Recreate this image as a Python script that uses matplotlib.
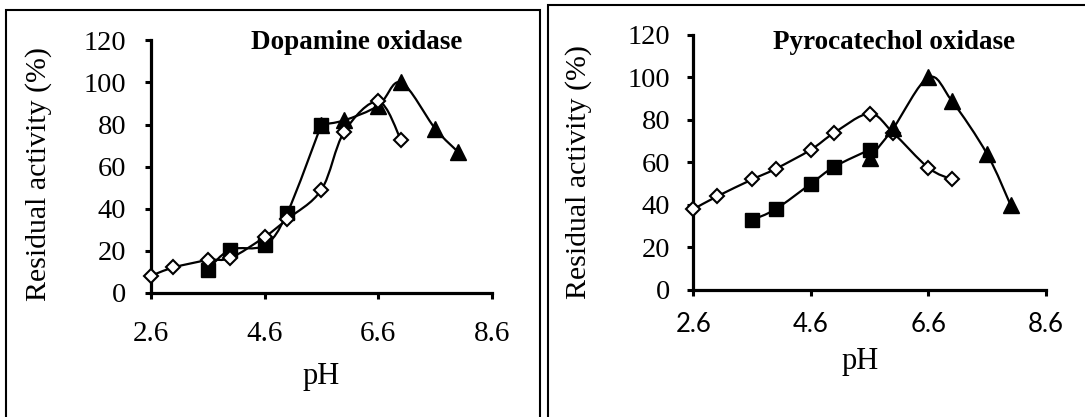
import numpy as np
import matplotlib
matplotlib.use("Agg")
import matplotlib.pyplot as plt
from matplotlib.path import Path
from matplotlib.patches import PathPatch, Rectangle

SERIF = "Liberation Serif"
SANS = "Lato"

# ── data ─────────────────────────────────────────────────────────────────────
ph_diamond = [2.6, 3.0, 3.6, 4.0, 4.6, 5.0, 5.6, 6.0, 6.6, 7.0]
ph_square = [3.6, 4.0, 4.6, 5.0, 5.6]
ph_triangle = [5.6, 6.0, 6.6, 7.0, 7.6, 8.0]

dopa_diamond = [8, 12, 15.5, 16.5, 26.5, 35, 49, 76.5, 91, 72.5]
dopa_square = [11, 20.5, 22.5, 38, 80]
dopa_triangle = [80, 82, 89, 100, 78, 67]

pyro_diamond = [38, 44, 52, 57, 66, 74, 83, 74, 57.5, 52]
pyro_square = [33, 38, 50, 58, 66]
pyro_triangle = [62, 76, 100, 89, 64, 40]

x_ticks = [2.6, 4.6, 6.6, 8.6]
y_ticks = [0, 20, 40, 60, 80, 100, 120]


def smooth_line(ax, x, y, z):
    # Excel-style smoothed line: Catmull-Rom segments as cubic Beziers
    pts = np.column_stack([x, y]).astype(float)
    n = len(pts)
    verts, codes = [pts[0]], [Path.MOVETO]
    for i in range(n - 1):
        p0 = pts[i - 1] if i > 0 else pts[i]
        p1, p2 = pts[i], pts[i + 1]
        p3 = pts[i + 2] if i + 2 < n else pts[i + 1]
        verts += [p1 + (p2 - p0) / 6, p2 - (p3 - p1) / 6, p2]
        codes += [Path.CURVE4] * 3
    ax.add_patch(PathPatch(Path(verts, codes), fill=False, lw=1.6, ec="black",
                           zorder=z, clip_on=False))


def series(ax, x, y, kind, z):
    smooth_line(ax, x, y, z)
    if kind == "d":
        ax.plot(x, y, ls="none", marker="D", ms=7, mfc="white", mec="black",
                mew=1.5, zorder=z + 0.1, clip_on=False)
    elif kind == "s":
        ax.plot(x, y, ls="none", marker="s", ms=9.5, mfc="black", mec="black",
                zorder=z + 0.1, clip_on=False)
    else:
        ax.plot(x, y, ls="none", marker="^", ms=11, mfc="black", mec="black",
                zorder=z + 0.1, clip_on=False)


def style(ax, xfont, xsize, xpad, ypad):
    ax.set_xlim(2.6, 8.6)
    ax.set_ylim(0, 120)
    ax.set_xticks(x_ticks)
    ax.set_yticks(y_ticks)
    ax.set_xticklabels(["2.6", "4.6", "6.6", "8.6"], fontfamily=xfont, fontsize=xsize)
    ax.set_yticklabels([str(v) for v in y_ticks], fontfamily=SERIF, fontsize=20.5)
    for s in ("top", "right"):
        ax.spines[s].set_visible(False)
    for s in ("left", "bottom"):
        ax.spines[s].set_linewidth(2.3)
    ax.tick_params(axis="both", direction="out", length=4.5, width=2.2)
    ax.tick_params(axis="x", pad=xpad)
    ax.tick_params(axis="y", pad=ypad)
    ax.set_ylabel("Residual activity (%)", fontfamily=SERIF, fontsize=21.5)
    ax.set_xlabel("pH", fontfamily=SERIF, fontsize=22)


fig = plt.figure(figsize=(10.85, 4.17), dpi=100)

# panel frames
fig.add_artist(Rectangle((6 / 1085, -0.1), 534 / 1085, 1.076, transform=fig.transFigure,
                         fill=False, lw=1.5, ec="black"))
fig.add_artist(Rectangle((548 / 1085, -0.1), 0.6, 1.087, transform=fig.transFigure,
                         fill=False, lw=1.5, ec="black"))

ax1 = fig.add_axes([0.1389, 0.2981, 0.3147, 0.6049])
series(ax1, ph_triangle, dopa_triangle, "t", 3)
series(ax1, ph_square, dopa_square, "s", 4)
series(ax1, ph_diamond, dopa_diamond, "d", 5)
style(ax1, SERIF, 21, 16, 13)
ax1.xaxis.set_label_coords(0.5, -0.275)
ax1.yaxis.set_label_coords(-0.29, 0.47)

ax2 = fig.add_axes([0.639, 0.3046, 0.3249, 0.6115])
series(ax2, ph_diamond, pyro_diamond, "d", 3)
series(ax2, ph_triangle, pyro_triangle, "t", 4)
series(ax2, ph_square, pyro_square, "s", 5)
style(ax2, SANS, 18.5, 11, 12)
ax2.xaxis.set_label_coords(0.472, -0.225)
ax2.yaxis.set_label_coords(-0.287, 0.463)

fig.text(0.3285, 0.897, "Dopamine oxidase", ha="center", va="center",
         fontfamily=SERIF, fontsize=19.5, fontweight="bold")
fig.text(0.8237, 0.897, "Pyrocatechol oxidase", ha="center", va="center",
         fontfamily=SERIF, fontsize=19.5, fontweight="bold")

fig.savefig("out.png", dpi=100, facecolor="white")
